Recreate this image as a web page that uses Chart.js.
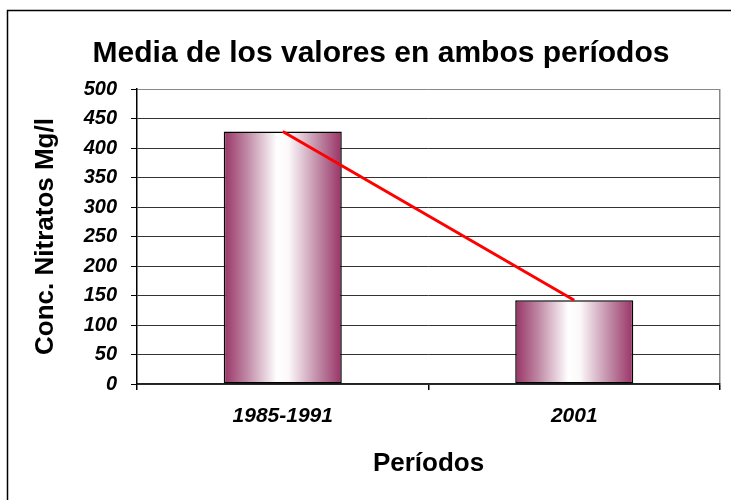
<!DOCTYPE html>
<html>
<head>
<meta charset="utf-8">
<script src="https://cdn.jsdelivr.net/npm/chart.js@4/dist/chart.umd.min.js"></script>
<style>
  html, body { margin: 0; padding: 0; background: #ffffff; }
  #wrap { width: 731px; height: 500px; position: relative; }
</style>
</head>
<body>
<div id="wrap"><canvas id="c" width="731" height="500"></canvas></div>
<script>
// ---- data ----
const categories = ['1985-1991', '2001'];
const meanValues = [428, 142];
const trendValues = [428, 142];
const yTickMin = 0;
const yTickMax = 500;
const yTickStep = 50;

const chartTitle = 'Media de los valores en ambos períodos';
const yTitle = 'Conc. Nitratos Mg/l';
const xTitle = 'Períodos';

const FONT = '"Liberation Sans", Arial, sans-serif';
const MAROON = '#993366';
const BAR_PCT = 0.405;

function barGradient(c) {
  const chart = c.chart;
  const xs = chart.scales && chart.scales.x;
  if (!xs || c.type !== 'data' || !xs.ticks || !xs.ticks.length) return MAROON;
  const cx = xs.getPixelForValue(c.dataIndex);
  const half = (xs.width / xs.ticks.length) * BAR_PCT / 2;
  const g = chart.ctx.createLinearGradient(cx - half, 0, cx + half, 0);
  g.addColorStop(0, '#993366');
  g.addColorStop(0.2, '#c08aa6');
  g.addColorStop(0.45, '#ffffff');
  g.addColorStop(0.55, '#fcf8fa');
  g.addColorStop(0.8, '#c08aa6');
  g.addColorStop(1, '#993366');
  return g;
}

const framePlugin = {
  id: 'frame',
  beforeDraw(chart) {
    const ctx = chart.ctx;
    ctx.save();
    ctx.fillStyle = '#ffffff';
    ctx.fillRect(0, 0, chart.width, chart.height);
    ctx.strokeStyle = '#000000';
    ctx.lineWidth = 1.5;
    ctx.beginPath();
    ctx.moveTo(7.5, chart.height + 2);
    ctx.lineTo(7.5, 10.5);
    ctx.lineTo(chart.width + 2, 10.5);
    ctx.stroke();
    ctx.restore();
  },
  afterDraw(chart) {
    const ctx = chart.ctx;
    ctx.save();
    ctx.fillStyle = '#000000';
    ctx.font = 'bold 30px ' + FONT;
    ctx.textAlign = 'center';
    ctx.textBaseline = 'alphabetic';
    ctx.fillText(chartTitle, 381, 62);
    ctx.restore();
  }
};

new Chart(document.getElementById('c'), {
  data: {
    labels: categories,
    datasets: [
      {
        type: 'line',
        label: 'Tendencia',
        data: trendValues,
        borderColor: '#ff0000',
        borderWidth: 3,
        pointRadius: 0,
        tension: 0,
        fill: false,
        order: 0
      },
      {
        type: 'bar',
        label: 'Media',
        data: meanValues,
        backgroundColor: barGradient,
        borderColor: '#000000',
        borderWidth: 1.5,
        borderSkipped: false,
        barPercentage: BAR_PCT,
        categoryPercentage: 1,
        order: 1
      }
    ]
  },
  options: {
    responsive: false,
    animation: false,
    devicePixelRatio: 1,
    layout: { padding: { top: 89, right: 11, bottom: 0, left: 0 } },
    plugins: {
      legend: { display: false },
      title: { display: false },
      tooltip: { enabled: false }
    },
    scales: {
      x: {
        type: 'category',
        offset: true,
        afterFit(s) { s.height = 116; },
        grid: {
          offset: true,
          drawOnChartArea: true,
          drawTicks: true,
          tickLength: 6,
          color: (c) => (c.type === 'tick' ? 'rgba(0,0,0,0)' : '#888888'),
          tickColor: '#000000',
          lineWidth: 1.5
        },
        border: { display: true, color: '#222222', width: 1.5 },
        ticks: {
          color: '#000000',
          padding: 14,
          font: { family: FONT, size: 21, weight: 'bold', style: 'italic' }
        },
        title: {
          display: true,
          text: xTitle,
          color: '#000000',
          font: { family: FONT, size: 26, weight: 'bold' },
          padding: { top: 0, bottom: 21 }
        }
      },
      y: {
        type: 'linear',
        min: yTickMin,
        max: yTickMax,
        afterFit(s) { s.width = 137; },
        grid: {
          color: (c) => (c.tick && c.tick.value === yTickMax ? '#888888' : '#333333'),
          tickColor: '#000000',
          tickLength: 6,
          lineWidth: 1
        },
        border: { display: true, color: '#000000', width: 1.5 },
        ticks: {
          stepSize: yTickStep,
          color: '#000000',
          padding: 14,
          font: { family: FONT, size: 20, weight: 'bold', style: 'italic' }
        },
        title: {
          display: true,
          text: yTitle,
          color: '#000000',
          font: { family: FONT, size: 26, weight: 'bold' },
          padding: { top: 30, bottom: 0 }
        }
      }
    }
  },
  plugins: [framePlugin]
});
</script>
</body>
</html>
